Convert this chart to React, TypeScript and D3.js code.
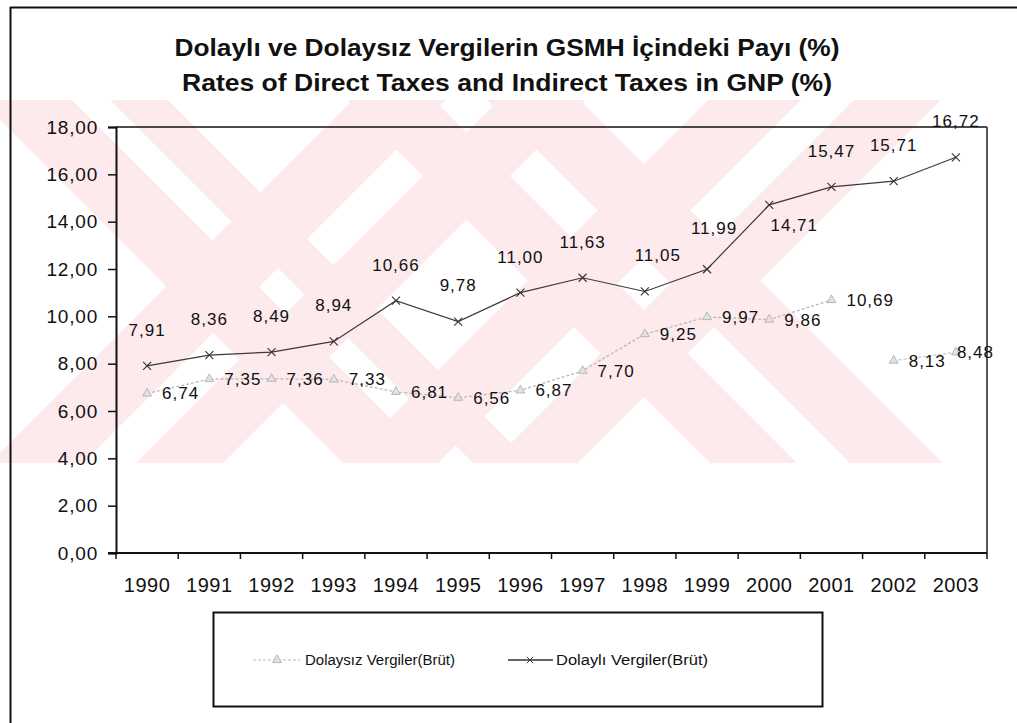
import { useRef, useEffect } from 'react';
import * as d3 from 'd3';

const years = ['1990', '1991', '1992', '1993', '1994', '1995', '1996', '1997', '1998', '1999', '2000', '2001', '2002', '2003'];
const dolayliValues = [7.91, 8.36, 8.49, 8.94, 10.66, 9.78, 11.0, 11.63, 11.05, 11.99, 14.71, 15.47, 15.71, 16.72];
const dolaysizValues = [6.74, 7.35, 7.36, 7.33, 6.81, 6.56, 6.87, 7.7, 9.25, 9.97, 9.86, 10.69, 8.13, 8.48];
const yTicks = [0, 2, 4, 6, 8, 10, 12, 14, 16, 18];
const titleLines = [
  'Dolaylı ve Dolaysız Vergilerin GSMH İçindeki Payı (%)',
  'Rates of Direct Taxes and Indirect Taxes in GNP (%)',
];
const legendLabels = ['Dolaysız Vergiler(Brüt)', 'Dolaylı Vergiler(Brüt)'];

// watermark stripes (x offset at the top edge of the band)
const backStripes = [[-20, 72], [110, 168], [347, 434], [487, 580]];
const fwdStripes = [[353, 446], [499, 586], [708, 801], [854, 941]];

const FONT = '"Liberation Sans", Arial, sans-serif';

export default function App() {
  const ref = useRef<SVGSVGElement>(null);

  useEffect(() => {
    document.body.style.margin = '0';
    const svg = d3.select(ref.current);
    svg.selectAll('*').remove();
    const W = 1017, H = 723;
    const m = { top: 127, right: 30, bottom: 170, left: 116 };
    const pink = '#fdeaed';
    const fmt = (v: number) => v.toFixed(2).replace('.', ',');

    svg.append('rect').attr('width', W).attr('height', H).attr('fill', '#fff');

    // watermark
    const wmTop = 100, wmBot = 463, wmH = wmBot - wmTop;
    const wm = svg.append('g');
    backStripes.forEach(([a, b]) => {
      wm.append('polygon').attr('fill', pink)
        .attr('points', `${a},${wmTop} ${b},${wmTop} ${b + wmH},${wmBot} ${a + wmH},${wmBot}`);
    });
    fwdStripes.forEach(([a, b]) => {
      wm.append('polygon').attr('fill', pink)
        .attr('points', `${a},${wmTop} ${b},${wmTop} ${b - wmH},${wmBot} ${a - wmH},${wmBot}`);
    });

    // outer frame
    svg.append('line').attr('x1', 10.5).attr('x2', 10.5).attr('y1', 7).attr('y2', H).attr('stroke', '#111').attr('stroke-width', 2);
    svg.append('line').attr('x1', 10).attr('x2', W).attr('y1', 7.5).attr('y2', 7.5).attr('stroke', '#111').attr('stroke-width', 2);

    // title
    titleLines.forEach((t, i) => {
      svg.append('text').attr('x', 507).attr('y', 56 + i * 35)
        .attr('text-anchor', 'middle').attr('font-family', FONT).attr('font-weight', 'bold')
        .attr('font-size', 24).attr('fill', '#111')
        .attr('textLength', i === 0 ? 665 : 650).attr('lengthAdjust', 'spacingAndGlyphs')
        .text(t);
    });

    const x = d3.scaleBand().domain(years).range([m.left, W - m.right]);
    const y = d3.scaleLinear().domain([0, 18]).range([H - m.bottom, m.top]);
    const cx = (d: string) => (x(d) as number) + x.bandwidth() / 2;
    const x0 = m.left, x1 = W - m.right, y0 = H - m.bottom, y1 = m.top;

    // plot frame
    svg.append('line').attr('x1', x0).attr('x2', x1).attr('y1', y1).attr('y2', y1).attr('stroke', '#111').attr('stroke-width', 1.5);
    svg.append('line').attr('x1', x1).attr('x2', x1).attr('y1', y1).attr('y2', y0).attr('stroke', '#222').attr('stroke-width', 1.5);

    // y axis
    const yAxis = svg.append('g').attr('transform', `translate(${x0},0)`)
      .call(d3.axisLeft(y).tickValues(yTicks).tickSize(8).tickPadding(10).tickFormat(d => fmt(+d)));
    yAxis.select('.domain').attr('stroke', '#111').attr('stroke-width', 2);
    yAxis.selectAll('line').attr('stroke', '#111').attr('stroke-width', 1.5);
    yAxis.selectAll('text').attr('font-family', FONT).attr('font-size', 19)
      .attr('letter-spacing', 0.8).attr('fill', '#111');

    // x axis
    svg.append('line').attr('x1', x0 - 8).attr('x2', x1).attr('y1', y0).attr('y2', y0).attr('stroke', '#111').attr('stroke-width', 2);
    const bounds = years.map(d => x(d) as number).concat([x1]);
    svg.append('g').selectAll('line').data(bounds).join('line')
      .attr('x1', d => d).attr('x2', d => d).attr('y1', y0).attr('y2', y0 + 6)
      .attr('stroke', '#111').attr('stroke-width', 1.5);
    svg.append('g').selectAll('text').data(years).join('text')
      .attr('x', d => cx(d)).attr('y', y0 + 39).attr('text-anchor', 'middle')
      .attr('font-family', FONT).attr('font-size', 20).attr('letter-spacing', 0.5).attr('fill', '#111')
      .text(d => d);

    // light series: Dolaysız
    const lightPts = years.map((d, i) => [cx(d), y(dolaysizValues[i])] as [number, number]);
    const line = d3.line();
    svg.append('path').attr('d', line(lightPts.slice(0, 12))).attr('fill', 'none')
      .attr('stroke', '#b9b9b9').attr('stroke-width', 1.3).attr('stroke-dasharray', '3,2');
    svg.append('path').attr('d', line(lightPts.slice(12))).attr('fill', 'none')
      .attr('stroke', '#c4c4c4').attr('stroke-width', 1.2).attr('stroke-dasharray', '3,2');
    const tri = d3.symbol(d3.symbolTriangle, 34)();
    svg.append('g').selectAll('path').data(lightPts).join('path')
      .attr('d', tri).attr('transform', d => `translate(${d[0]},${d[1]})`)
      .attr('fill', '#e2e2e2').attr('stroke', '#aaa').attr('stroke-width', 0.8);

    // dark series: Dolaylı
    const darkPts = years.map((d, i) => [cx(d), y(dolayliValues[i])] as [number, number]);
    svg.append('path').attr('d', line(darkPts)).attr('fill', 'none')
      .attr('stroke', '#3a3a3a').attr('stroke-width', 1.2);
    const cross = 'M-4,-4L4,4M-4,4L4,-4';
    svg.append('g').selectAll('path').data(darkPts).join('path')
      .attr('d', cross).attr('transform', d => `translate(${d[0]},${d[1]})`)
      .attr('fill', 'none').attr('stroke', '#333').attr('stroke-width', 1.1);

    // data labels
    const darkNudge: Record<number, [number, number]> = { 8: [13, -36], 9: [7, -41], 10: [25, 20] };
    svg.append('g').selectAll('text').data(dolayliValues).join('text')
      .attr('x', (d, i) => darkPts[i][0] + (darkNudge[i] ? darkNudge[i][0] : 0))
      .attr('y', (d, i) => darkPts[i][1] + (darkNudge[i] ? darkNudge[i][1] : -36))
      .attr('dy', '0.35em').attr('text-anchor', 'middle')
      .attr('font-family', FONT).attr('font-size', 17).attr('letter-spacing', 1).attr('fill', '#111')
      .text(d => fmt(d));
    svg.append('g').selectAll('text').data(dolaysizValues).join('text')
      .attr('x', (d, i) => lightPts[i][0] + (i === 13 ? 1 : 15))
      .attr('y', (d, i) => lightPts[i][1])
      .attr('dy', '0.35em').attr('text-anchor', 'start')
      .attr('font-family', FONT).attr('font-size', 17).attr('letter-spacing', 1).attr('fill', '#111')
      .text(d => fmt(d));

    // legend
    const lg = svg.append('g');
    lg.append('rect').attr('x', 213.5).attr('y', 612.5).attr('width', 609).attr('height', 94)
      .attr('fill', 'none').attr('stroke', '#111').attr('stroke-width', 2);
    const ly = 660;
    lg.append('line').attr('x1', 253).attr('x2', 300).attr('y1', ly).attr('y2', ly)
      .attr('stroke', '#bbb').attr('stroke-width', 1.2).attr('stroke-dasharray', '3,2');
    lg.append('path').attr('d', tri).attr('transform', `translate(277,${ly})`)
      .attr('fill', '#e2e2e2').attr('stroke', '#aaa').attr('stroke-width', 0.8);
    lg.append('line').attr('x1', 508).attr('x2', 553).attr('y1', ly).attr('y2', ly)
      .attr('stroke', '#333').attr('stroke-width', 1.3);
    lg.append('path').attr('d', cross).attr('transform', `translate(530,${ly}) scale(0.8)`)
      .attr('fill', 'none').attr('stroke', '#333').attr('stroke-width', 1.2);
    [[305, 150], [556, 152]].forEach(([lx, len], i) => {
      lg.append('text').attr('x', lx).attr('y', ly).attr('dy', '0.35em')
        .attr('font-family', FONT).attr('font-size', 14).attr('fill', '#111')
        .attr('textLength', len).attr('lengthAdjust', 'spacingAndGlyphs')
        .text(legendLabels[i]);
    });
  }, []);

  return (
    <svg ref={ref} width={1017} height={723}
      style={{ position: 'absolute', left: 0, top: 0, display: 'block' }} />
  );
}
